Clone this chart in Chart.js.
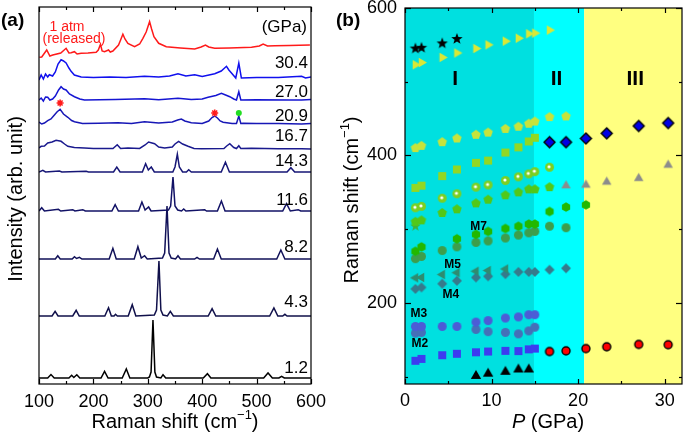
<!DOCTYPE html>
<html>
<head>
<meta charset="utf-8">
<script src="https://cdn.jsdelivr.net/npm/chart.js@4.4.1/dist/chart.umd.min.js"></script>
<style>
  html, body { margin: 0; padding: 0; background: #fff; }
  #wrap { position: relative; width: 685px; height: 437px; overflow: hidden; }
  canvas { position: absolute; top: 0; }
  #ramanChart { left: 0; }
  #phaseChart { left: 330px; }
</style>
</head>
<body>
<div id="wrap">
  <canvas id="ramanChart" width="330" height="437"></canvas>
  <canvas id="phaseChart" width="359" height="437"></canvas>
</div>
<script>
const FONT = "'Liberation Sans', Arial, Helvetica, sans-serif";
Chart.defaults.font.family = FONT;
Chart.defaults.color = '#000';

// ---------- panel (a): Raman spectra ----------
const pressureLabels = ['1.2', '4.3', '8.2', '11.6', '14.3', '16.7', '20.9', '27.0', '30.4', '1 atm'];
const offsets = [6, 68, 125, 173, 212, 235, 260, 284, 306, 327];
const spectrumColors = ['#000000', '#10104a', '#111158', '#121266', '#161676', '#1a1a8e', '#1717b6', '#1515d2', '#1010ee', '#ff1a1a'];
const shiftTicks = [100, 200, 300, 400, 500, 600];
const shiftMinor = [150, 250, 350, 450, 550];

const s12 = [[100,0],[116,0],[122,3.4],[128,0],[155,0],[160,2.7],[164,0.5],[169.5,3.3],[175,0],[214,0],[220.5,6.7],[227,0],[253,0],[260.5,9],[267,0],[300,0],[303,1],[306,6],[309.5,58],[313,6],[316,1],[324,0],[328,3.3],[333,0],[402,0],[409.6,4.3],[416,0],[513,0],[521,5],[529,0],[541,0],[546,1.7],[551,0],[600,0]];
const s43 = [[100,0],[124,0],[129.6,4.7],[135,0],[162,0],[168.3,5.7],[174,0],[221,0],[227.8,8.3],[233,0],[238,0],[240.7,1.7],[244,0],[264,0],[271.4,11.3],[278,0],[312,1],[316,6],[320.5,55],[324,6],[328,1],[336,0],[341.4,4.7],[347,0],[411,0],[418.2,7.3],[425,0],[524,0],[531.8,8],[539,0],[548,0],[552,1.7],[556,0],[600,0]];
const s82 = [[100,0],[130,0],[134.5,3.3],[139,0],[161,0],[165.2,2.3],[169,0.5],[174.4,1.7],[179,0],[229,0],[235.8,10.7],[242,0],[275,0],[281.8,12.3],[288,1],[294.1,3.3],[299,0],[327,1],[331,6],[335.3,53],[339,6],[343,1],[351,0],[355.5,3.3],[360,0],[386,0],[390.5,1.7],[395,0],[421,0],[428,10],[435,0],[537,0],[544.6,9],[552,0],[600,0]];
const s116 = [[100,0],[105,3.3],[110,0],[135.7,1.7],[140,0],[162,1.3],[166,0],[180.5,1.3],[185,0],[234,0],[240,6.3],[246,0],[283,0],[289.2,9],[295,1],[301.5,4],[306,0],[338,1],[342,5],[346.3,34],[350,5],[355,1],[362,0],[366,2],[370,0],[404.6,1.3],[408,0],[428,0],[435.3,10],[442,0],[548,0],[555,7.3],[562,0],[576.5,1.3],[581,0],[600,0]];
const s143 = [[100,0],[107,1.7],[112,0],[137.5,1],[142,0],[186.7,0.7],[191,0],[237,0],[243,5],[249,0],[290,0],[296,8.3],[301,2],[306.4,5],[312,0],[346,0],[350,5],[354.3,17.7],[358,5],[364,0],[371,0],[375.2,2.3],[380,0],[435,0],[442.7,9.7],[450,0],[556,0],[563,4.3],[570,0],[600,0]];
const s167 = [[100,1],[104,2.7],[110,3],[116,6],[124,7],[131.4,8.7],[140.6,7.7],[147,5],[153,2.7],[165,1.5],[183.6,1],[200,0.5],[236,0.5],[243.8,4.3],[250,0.5],[263.4,1],[285,0.5],[295,4],[301.5,7],[312.5,5.3],[320,2],[331,1],[345,2],[350,5],[356.7,7.7],[364,5],[374,2.7],[385,0.5],[398.5,0.3],[440,0.5],[445,3],[450.7,5.3],[458,1.5],[463,0.5],[467.3,3.3],[471,0.5],[490.6,0.7],[540,0.3],[582.7,0.3],[600,0]];
const s209 = [[100,2],[105,0],[110,1],[116,3.3],[122,5],[128.3,9],[133,12],[138.8,14.7],[145,10],[153,6.7],[160,3.5],[165.2,2.3],[180,0.5],[210,0.8],[245,1.3],[270,0.5],[294,2.3],[320,1],[345,2],[355,4],[361.7,5],[368,3],[380,1.3],[400,0.5],[412,3],[418,6.5],[423,8],[428,6],[433,3],[438.4,1.7],[455,0.5],[463,0.5],[467.3,8],[471,0.5],[475,0.7],[500,0.5],[540,0.5],[582.7,0],[600,0.5]];
const s270 = [[100,0],[104,2],[108,-1],[112,3],[116,2.7],[120,0],[125,1],[130,4],[136,10],[140.6,13.3],[145,11],[149.8,10],[156,6],[165.2,3.3],[175,1],[183.6,0],[240,0.5],[294,1.3],[320,0.3],[355.5,1.7],[380,0.5],[400,1],[410.8,2.7],[425,4.5],[435.3,6.7],[443,5],[450.7,3.3],[458,1],[463,0],[467.3,8.3],[471,0],[500,0.3],[560,0],[582.7,0],[600,0.5]];
const s304 = [[100,-2],[104,3],[108,-1],[112,4],[116,1],[119,3.3],[125,2],[130,6],[135,14],[140.6,18.3],[145,17],[149.8,15],[155,10],[159,6.7],[165,3],[177.5,1],[200,0.5],[230,1],[260,0.5],[294,1.7],[320,1],[340,2],[355.5,4.3],[370,2],[386.2,3.3],[400,1.5],[423,4.3],[435,7],[444.6,11.7],[449,8],[453.8,5],[461.7,0],[467.3,15],[472,0],[500,0.5],[540,0.5],[582.7,1.7],[590,0],[600,1]];
const sAtm = [[100.7,-0.3],[105,0],[114.2,7],[120,1],[125.3,2],[140,4],[149.8,8.7],[155,4],[159,4.3],[165.2,5.3],[170,3],[177.5,3.7],[190,4],[205.1,4.7],[209,7],[213,12.7],[216,6],[220.4,5.3],[227.8,7],[231,5],[235.8,6],[246.2,12],[250,17],[254.2,22.7],[258,18],[263.4,13.7],[275.7,10.3],[285,13],[291,18.7],[297,25],[303.3,35.3],[307,28],[311.3,20.3],[320,13.7],[334,10.3],[360,9],[386.2,8],[398,10],[406,12],[412,10],[423,8.7],[450,9],[490.6,9.7],[505,11],[512,13],[520,11],[533.6,11.3],[560,11.5],[598,12]];
const spectra = [s12, s43, s82, s116, s143, s167, s209, s270, s304, sAtm];

// marks above the 20.9 GPa spectrum
const asteriskShift = [138.8, 423];
const asteriskLevel = [281, 271];
const dotShift = [467.3];
const dotLevel = [271];

// ---------- panel (b): mode frequencies vs pressure ----------
const P = [1.2, 1.9, 4.3, 6.0, 8.2, 9.6, 11.6, 13.1, 14.3, 15.0, 16.7, 18.6, 20.9, 23.3, 27.0, 30.4];
const _ = null;
const starBlack  = [545, 546, 552, 558, _, _, _, _, _, _, _, _, _, _, _, _];
const triRight   = [523, 526, 533, 539, 545, 550, 555, 559, 565, 566, 570, _, _, _, _, _];
const pentLight  = [410, 413, 418, 423, 428, 431, 436, 439, 443, 446, 452, 453, _, _, _, _];
const diamBlue   = [_, _, _, _, _, _, _, _, _, _, 418, 418, 423, 430, 440, 444];
const sqLime     = [356, 359, 372, 381, 390, 393, 404, 411, 419, 424, _, _, _, _, _, _];
const sphereGrn  = [329, 331, 342, 348, 357, 360, 366, 371, 375, 378, 384, _, _, _, _, _];
const triGray    = [_, _, _, _, _, _, _, _, _, _, _, 359, 360, 364, 369, 387];
const pentGreen  = [310, 312, 322, 327, 335, 340, 346, 350, 354, 354, 357, _, _, _, _, _];
const starGreen  = [304, _, _, _, _, _, _, _, _, _, _, _, _, _, _, _];
const hexGreen   = [270, 276, _, 287, 293, 297, 301, 304, 307, 307, 324, 330, 333, _, _, _];
const circGreen  = [260, 263, 271, 276, 282, 284, 288, 292, 295, 297, 304, 302, _, _, _, _];
const triLeft    = [234, 234.5, 238.5, 241, 243, 244, 246, _, _, _, _, _, _, _, _, _];
const diamTeal   = [219, 221, 226, 230, 234.5, 236, 239, 242, 242, 242, 245, 247, _, _, _, _];
const circBlueHi = [168, 168, 168, 168, 174, 176, 179.5, 181, 184, 184, _, _, _, _, _, _];
const circBlueLo = [159, 160, _, _, 164, 161, 160, 158, 162, 167, _, _, _, _, _, _];
const sqBlue     = [121.5, 124, 129, 131, 133, 134, 135, 134.6, 137, 138, _, _, _, _, _, _];
const circRed    = [_, _, _, _, _, _, _, _, _, _, 134, 135, 138, 140.5, 143.7, 143.3];
const triBlack   = [_, _, _, _, 101, 104, 106.6, 109.7, 109.7, _, _, _, _, _, _, _];

const pTicks = [0, 10, 20, 30];
const pMinor = [5, 15, 25];
const ramanTicks = [200, 400, 600];
const ramanMinor = [100, 300, 500];
const phaseBounds = [0, 14.9, 20.7, 32];
const phaseColors = ['#00e0e0', '#00ffff', '#ffff80'];
const phaseNames = ['I', 'II', 'III'];
const modeNames = ['M7', 'M5', 'M4', 'M3', 'M2'];

// ---------- helpers ----------
function marker(shape, size, fill, stroke) {
  const pad = 2, s = Math.ceil(size + pad * 2);
  const c = document.createElement('canvas');
  c.width = c.height = s;
  const g = c.getContext('2d');
  const cx = s / 2, cy = s / 2, r = size / 2;
  const poly = (n, rad, start) => {
    for (let i = 0; i < n; i++) {
      const a = (start + i * 360 / n) * Math.PI / 180;
      const px = cx + rad * Math.cos(a), py = cy + rad * Math.sin(a);
      i ? g.lineTo(px, py) : g.moveTo(px, py);
    }
    g.closePath();
  };
  g.beginPath();
  if (shape === 'circle' || shape === 'sphere') g.arc(cx, cy, r, 0, Math.PI * 2);
  else if (shape === 'square') g.rect(cx - r, cy - r, size, size);
  else if (shape === 'diamond') poly(4, r, -90);
  else if (shape === 'pentagon') poly(5, r, -90);
  else if (shape === 'hexagon') poly(6, r, -90);
  else if (shape === 'triUp') poly(3, r, -90);
  else if (shape === 'triRight') poly(3, r, 0);
  else if (shape === 'triLeft') poly(3, r, 180);
  else if (shape === 'star') {
    for (let i = 0; i < 10; i++) {
      const a = (-90 + i * 36) * Math.PI / 180, rad = i % 2 ? r * 0.42 : r;
      const px = cx + rad * Math.cos(a), py = cy + rad * Math.sin(a);
      i ? g.lineTo(px, py) : g.moveTo(px, py);
    }
    g.closePath();
  }
  g.fillStyle = fill;
  g.fill();
  if (stroke) { g.lineWidth = 1.4; g.strokeStyle = stroke; g.stroke(); }
  if (shape === 'sphere') {
    g.beginPath();
    g.arc(cx - 0.5, cy - 0.5, 1.6, 0, Math.PI * 2);
    g.fillStyle = '#ffffff';
    g.fill();
  }
  return c;
}

function richText(ctx, runs, x, y, angle) {
  ctx.save();
  ctx.translate(x, y);
  ctx.rotate(angle || 0);
  ctx.textAlign = 'left';
  ctx.textBaseline = 'alphabetic';
  let total = 0;
  runs.forEach(r => { ctx.font = r.font; r.w = ctx.measureText(r.text).width; total += r.w; });
  let cx = -total / 2;
  runs.forEach(r => {
    ctx.font = r.font;
    ctx.fillStyle = r.color || '#000';
    ctx.fillText(r.text, cx, r.dy || 0);
    cx += r.w;
  });
  ctx.restore();
}

const f = (size, style) => (style ? style + ' ' : '') + size + 'px ' + FONT;
const ramanTitle = [
  { text: 'Raman shift (cm', font: f(20) },
  { text: '\u22121', font: f(13), dy: -9 },
  { text: ')', font: f(20) }
];

// no label-driven padding: plot area is set by layout padding + afterFit sizes
const noPad = s => { s.paddingLeft = 0; s.paddingRight = 0; s.paddingTop = 0; s.paddingBottom = 0; };

const frameTicks = {
  id: 'frameTicks',
  afterDatasetsDraw(chart, args, o) {
    const { ctx, chartArea: a, scales: { x, y } } = chart;
    ctx.save();
    ctx.strokeStyle = '#000';
    ctx.lineWidth = 1.2;
    const line = (x1, y1, x2, y2) => { ctx.beginPath(); ctx.moveTo(x1, y1); ctx.lineTo(x2, y2); ctx.stroke(); };
    const xt = (vals, len) => vals.forEach(v => {
      const px = Math.round(x.getPixelForValue(v)) + 0.5;
      line(px, a.bottom, px, a.bottom - len);
      line(px, a.top, px, a.top + len);
    });
    const yt = (vals, len) => vals.forEach(v => {
      const py = Math.round(y.getPixelForValue(v)) + 0.5;
      line(a.left, py, a.left + len, py);
      line(a.right, py, a.right - len, py);
    });
    xt(o.xMajor || [], 5); xt(o.xMinor || [], 3);
    yt(o.yMajor || [], 6); yt(o.yMinor || [], 3);
    ctx.strokeRect(a.left, a.top, a.right - a.left, a.bottom - a.top);
    ctx.restore();
  }
};

// ---------- chart (a) ----------
const labelY = [368, 302, 247, 200, 161, 136, 116, 92, 63];

const ramanText = {
  id: 'ramanText',
  afterDraw(chart) {
    const ctx = chart.ctx;
    ctx.save();
    ctx.fillStyle = '#000';
    ctx.font = f(17);
    ctx.textAlign = 'right';
    ctx.textBaseline = 'middle';
    labelY.forEach((py, i) => ctx.fillText(pressureLabels[i], 308, py));
    ctx.fillText('(GPa)', 307, 27);
    ctx.fillStyle = '#ff1a1a';
    ctx.font = f(14);
    ctx.textAlign = 'center';
    ctx.fillText(pressureLabels[9], 67, 27);
    ctx.fillText('(released)', 74, 39);
    ctx.fillStyle = '#000';
    ctx.font = f(19, 'bold');
    ctx.textAlign = 'left';
    ctx.textBaseline = 'alphabetic';
    ctx.fillText('(a)', 1, 26);
    ctx.restore();
    richText(ctx, ramanTitle, 175, 428, 0);
    richText(ctx, [{ text: 'Intensity (arb. unit)', font: f(20) }], 22, 199, -Math.PI / 2);
  }
};

const spectrumSets = spectra.map((pts, i) => ({
  type: 'line',
  data: pts.map(([x, h]) => ({ x: x, y: offsets[i] + h })),
  borderColor: spectrumColors[i],
  borderWidth: 1.5,
  pointRadius: 0,
  tension: 0,
  fill: false
}));

new Chart(document.getElementById('ramanChart'), {
  type: 'scatter',
  data: {
    datasets: [
      {
        data: asteriskShift.map((x, i) => ({ x: x, y: asteriskLevel[i] })),
        pointStyle: 'star', pointRadius: 3.5, borderColor: '#ff1a1a', borderWidth: 1.6, backgroundColor: '#ff1a1a'
      },
      {
        data: dotShift.map((x, i) => ({ x: x, y: dotLevel[i] })),
        pointStyle: 'circle', pointRadius: 3, borderWidth: 0, backgroundColor: '#22dd22'
      },
      ...spectrumSets
    ]
  },
  options: {
    responsive: false,
    animation: false,
    devicePixelRatio: 1,
    layout: { padding: { top: 7, right: 19, left: 0, bottom: 0 } },
    plugins: {
      legend: { display: false },
      tooltip: { enabled: false },
      frameTicks: { xMajor: shiftTicks, xMinor: shiftMinor }
    },
    scales: {
      x: {
        type: 'linear', min: 100, max: 600,
        afterBuildTicks: s => { s.ticks = shiftTicks.map(v => ({ value: v })); },
        afterFit: s => { s.height = 53; noPad(s); },
        grid: { display: false, drawTicks: false },
        border: { display: false },
        ticks: { font: { size: 18 }, color: '#000', padding: 7, maxRotation: 0 }
      },
      y: {
        min: 0, max: 377,
        afterFit: s => { s.width = 39; noPad(s); },
        grid: { display: false, drawTicks: false },
        border: { display: false },
        ticks: { display: false }
      }
    }
  },
  plugins: [frameTicks, ramanText]
});

// ---------- chart (b) ----------
function series(vals, shape, size, fill, stroke) {
  return {
    data: P.map((p, i) => ({ x: p, y: vals[i] })).filter(d => d.y !== null),
    pointStyle: marker(shape, size, fill, stroke),
    pointRadius: size / 2
  };
}

const phaseBg = {
  id: 'phaseBg',
  beforeDatasetsDraw(chart) {
    const { ctx, chartArea: a, scales: { x } } = chart;
    ctx.save();
    phaseColors.forEach((c, i) => {
      const x1 = x.getPixelForValue(phaseBounds[i]);
      const x2 = x.getPixelForValue(phaseBounds[i + 1]);
      ctx.fillStyle = c;
      ctx.fillRect(x1, a.top, Math.min(x2, a.right) - x1, a.bottom - a.top);
    });
    ctx.restore();
  }
};

const phaseText = {
  id: 'phaseText',
  afterDatasetsDraw(chart) {
    const { ctx, scales: { x, y } } = chart;
    ctx.save();
    ctx.fillStyle = '#000';
    ctx.textAlign = 'center';
    ctx.textBaseline = 'middle';
    ctx.font = f(21, 'bold');
    [5.8, 17.5, 26.6].forEach((p, i) => ctx.fillText(phaseNames[i], x.getPixelForValue(p), y.getPixelForValue(503)));
    ctx.font = f(12, 'bold');
    [[8.5, 304], [5.5, 252], [5.3, 210.6], [1.6, 185], [1.7, 145.3]].forEach(([p, w], i) =>
      ctx.fillText(modeNames[i], x.getPixelForValue(p), y.getPixelForValue(w)));
    ctx.font = f(19, 'bold');
    ctx.textAlign = 'left';
    ctx.textBaseline = 'alphabetic';
    ctx.fillText('(b)', 6, 26);
    ctx.restore();
    richText(ctx, ramanTitle, 28, 200, -Math.PI / 2);
    richText(ctx, [
      { text: 'P', font: f(20, 'italic') },
      { text: ' (GPa)', font: f(20) }
    ], 218, 428, 0);
  }
};

new Chart(document.getElementById('phaseChart'), {
  type: 'scatter',
  data: {
    datasets: [
      series(circRed, 'circle', 8, '#ff0000', '#000'),
      series(diamBlue, 'diamond', 11, '#0000e6', '#000'),
      series(triBlack, 'triUp', 12, '#000'),
      series(starBlack, 'star', 12, '#000'),
      series(triRight, 'triRight', 11, '#d9e836'),
      series(pentLight, 'pentagon', 10, '#c6e33c'),
      series(sqLime, 'square', 8, '#92d724'),
      series(sphereGrn, 'sphere', 9, '#7ccf22'),
      series(triGray, 'triUp', 11, '#8c8c8c'),
      series(pentGreen, 'pentagon', 10, '#52c818'),
      series(hexGreen, 'hexagon', 9.5, '#22b800'),
      series(circGreen, 'circle', 9, '#3d9e4c'),
      series(triLeft, 'triLeft', 11, '#2e8c70'),
      series(diamTeal, 'diamond', 10, '#367a8c'),
      series(circBlueHi, 'circle', 9, '#4c5cd6'),
      series(circBlueLo, 'circle', 9, '#4570b8'),
      series(sqBlue, 'square', 8, '#3c3cf0'),
      series(starGreen, 'star', 11, '#3cb43c')
    ]
  },
  options: {
    responsive: false,
    animation: false,
    devicePixelRatio: 1,
    layout: { padding: { top: 8, right: 1, left: 0, bottom: 0 } },
    plugins: {
      legend: { display: false },
      tooltip: { enabled: false },
      frameTicks: { xMajor: pTicks, xMinor: pMinor, yMajor: ramanTicks, yMinor: ramanMinor }
    },
    scales: {
      x: {
        type: 'linear', min: 0, max: 32,
        afterBuildTicks: s => { s.ticks = pTicks.map(v => ({ value: v })); },
        afterFit: s => { s.height = 53; noPad(s); },
        grid: { display: false, drawTicks: false },
        border: { display: false },
        ticks: { font: { size: 18 }, color: '#000', padding: 6, maxRotation: 0 }
      },
      y: {
        min: 90, max: 600,
        afterBuildTicks: s => { s.ticks = ramanTicks.map(v => ({ value: v })); },
        afterFit: s => { s.width = 75; noPad(s); },
        grid: { display: false, drawTicks: false },
        border: { display: false },
        ticks: { font: { size: 18 }, color: '#000', padding: 8 }
      }
    }
  },
  plugins: [phaseBg, frameTicks, phaseText]
});
</script>
</body>
</html>
